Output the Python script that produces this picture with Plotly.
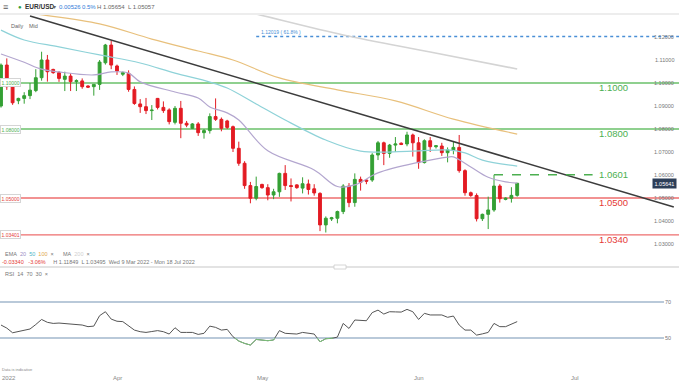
import plotly.graph_objects as go
import pandas as pd

# ---------------- data ----------------
candle_dates = [d.strftime("%Y-%m-%d") for d in pd.date_range("2022-03-09", "2022-06-21", freq="D")
                if d.weekday() != 5]
axis_end = "2022-07-18"

opens = [1.0900, 1.1078, 1.0984, 1.0923, 1.0933, 1.0945, 1.0967, 1.1023, 1.1100, 1.1059,
         1.1045, 1.1016, 1.1030, 1.1006, 1.1009, 1.0987, 1.0984, 1.0994, 1.1088, 1.1165,
         1.1074, 1.1038, 1.1042, 1.0972, 1.0909, 1.0897, 1.0880, 1.0933, 1.0894, 1.0883,
         1.0829, 1.0890, 1.0825, 1.0803, 1.0822, 1.0784, 1.0793, 1.0854, 1.0842, 1.0835,
         1.0810, 1.0716, 1.0651, 1.0554, 1.0499, 1.0559, 1.0545, 1.0513, 1.0527, 1.0607,
         1.0554, 1.0557, 1.0543, 1.0561, 1.0540, 1.0520, 1.0383, 1.0409, 1.0412, 1.0441,
         1.0552, 1.0480, 1.0581, 1.0578, 1.0578, 1.0687, 1.0740, 1.0694, 1.0730, 1.0738,
         1.0735, 1.0774, 1.0740, 1.0654, 1.0749, 1.0723, 1.0726, 1.0697, 1.0709, 1.0720,
         1.0619, 1.0523, 1.0511, 1.0410, 1.0429, 1.0448, 1.0552, 1.0494, 1.0499, 1.05115]
highs = [1.1085, 1.1107, 1.1005, 1.0936, 1.0960, 1.1000, 1.1060, 1.1136, 1.1122, 1.1062,
         1.1052, 1.1049, 1.1042, 1.1016, 1.1020, 1.0990, 1.0994, 1.1100, 1.1170, 1.1185,
         1.1080, 1.1050, 1.1055, 1.0985, 1.0930, 1.0935, 1.0904, 1.0935, 1.0920, 1.0890,
         1.0900, 1.0922, 1.0835, 1.0826, 1.0830, 1.0800, 1.0868, 1.0933, 1.0850, 1.0840,
         1.0815, 1.0745, 1.0660, 1.0570, 1.0593, 1.0562, 1.0560, 1.0540, 1.0610, 1.0643,
         1.0585, 1.0560, 1.0590, 1.0580, 1.0560, 1.0525, 1.0420, 1.0418, 1.0445, 1.0560,
         1.0565, 1.0607, 1.0593, 1.0582, 1.0695, 1.0748, 1.0745, 1.0735, 1.0765, 1.0742,
         1.0788, 1.0780, 1.0765, 1.0755, 1.0765, 1.0730, 1.0740, 1.0720, 1.0748, 1.0774,
         1.0625, 1.0528, 1.0520, 1.0432, 1.0506, 1.0601, 1.0560, 1.0503, 1.0547, 1.05654]
lows = [1.0893, 1.0970, 1.0905, 1.0908, 1.0910, 1.0930, 1.0960, 1.1010, 1.1006, 1.1040,
        1.1005, 1.0965, 1.0965, 1.0965, 1.0975, 1.0978, 1.0945, 1.0970, 1.1080, 1.1060,
        1.1035, 1.1030, 1.0962, 1.0905, 1.0870, 1.0865, 1.0839, 1.0885, 1.0870, 1.0820,
        1.0820, 1.0760, 1.0808, 1.0800, 1.0770, 1.0758, 1.0780, 1.0835, 1.0790, 1.0800,
        1.0700, 1.0640, 1.0540, 1.0477, 1.0490, 1.0540, 1.0490, 1.0495, 1.0505, 1.0535,
        1.0485, 1.0540, 1.0520, 1.0515, 1.0510, 1.0356, 1.0350, 1.0400, 1.0390, 1.0430,
        1.0460, 1.0462, 1.0532, 1.0560, 1.0570, 1.0665, 1.0643, 1.0675, 1.0700, 1.0730,
        1.0725, 1.0680, 1.0627, 1.0650, 1.0700, 1.0715, 1.0683, 1.0655, 1.0690, 1.0610,
        1.0510, 1.0505, 1.0398, 1.0400, 1.0365, 1.0440, 1.0480, 1.0490, 1.0480, 1.05057]
closes = [1.1078, 1.0984, 1.0914, 1.0933, 1.0945, 1.0969, 1.1023, 1.1100, 1.1049, 1.1045,
          1.1020, 1.1030, 1.1006, 1.1010, 1.0984, 1.0982, 1.0994, 1.1091, 1.1165, 1.1078,
          1.1052, 1.1045, 1.0972, 1.0911, 1.0897, 1.0880, 1.0882, 1.0894, 1.0880, 1.0832,
          1.0890, 1.0825, 1.0817, 1.0822, 1.0784, 1.0793, 1.0854, 1.0842, 1.0803, 1.0807,
          1.0716, 1.0651, 1.0554, 1.0499, 1.0550, 1.0545, 1.0513, 1.0527, 1.0607, 1.0554,
          1.0550, 1.0545, 1.0562, 1.0537, 1.0522, 1.0383, 1.0412, 1.0414, 1.0441, 1.0552,
          1.0480, 1.0581, 1.0568, 1.0573, 1.0687, 1.0740, 1.0694, 1.0730, 1.0735, 1.0733,
          1.0774, 1.0740, 1.0654, 1.0749, 1.0723, 1.0727, 1.0697, 1.0709, 1.0720, 1.0619,
          1.0523, 1.0511, 1.0410, 1.0429, 1.0448, 1.0552, 1.0497, 1.0499, 1.05115, 1.05641]

rsi_values = [57.2, 55.5, 52.9, 53.5, 54.1, 55.0, 57.5, 60.3, 58.7, 58.1,
              58.3, 58.1, 57.6, 57.4, 57.2, 56.3, 56.6, 62.4, 64.6, 60.5,
              59.3, 59.1, 56.5, 54.4, 53.5, 53.1, 53.6, 54.1, 53.5, 52.2,
              55.7, 53.1, 53.1, 53.1, 52.0, 52.6, 56.6, 55.9, 54.4, 54.8,
              50.7, 48.3, 47.0, 46.1, 49.2, 48.8, 48.5, 48.9, 54.1, 52.6,
              52.4, 52.2, 53.1, 52.6, 52.2, 47.9, 49.6, 49.8, 50.5, 58.1,
              55.3, 60.0, 59.8, 59.6, 64.1, 65.5, 63.3, 64.6, 64.5, 64.4,
              65.9, 64.6, 60.3, 63.7, 62.8, 62.8, 62.8, 61.5, 62.2, 57.2,
              54.4, 54.4, 51.6, 52.3, 53.1, 58.1, 56.3, 56.3, 57.5, 59.1]

ema20_dates = ["2022-03-09", "2022-03-14", "2022-03-17", "2022-03-21", "2022-03-28", "2022-03-31",
               "2022-04-04", "2022-04-06", "2022-04-13", "2022-04-18", "2022-04-20", "2022-04-24",
               "2022-04-26", "2022-05-02", "2022-05-11", "2022-05-16", "2022-05-19", "2022-05-24",
               "2022-06-01", "2022-06-07", "2022-06-08", "2022-06-12", "2022-06-15", "2022-06-19",
               "2022-06-21"]
ema20_vals = [1.1126, 1.1090, 1.1060, 1.1048, 1.1035, 1.1048,
              1.1043, 1.1005, 1.0961, 1.0935, 1.0896, 1.0870,
              1.0839, 1.0705, 1.0622, 1.0550, 1.0557, 1.0609,
              1.0655, 1.0678, 1.0679, 1.0635, 1.0590, 1.0570,
              1.0565]
ema50_dates = ["2022-03-09", "2022-03-14", "2022-03-21", "2022-03-29", "2022-04-06", "2022-04-13",
               "2022-04-20", "2022-04-24", "2022-04-29", "2022-05-05", "2022-05-13", "2022-05-20",
               "2022-05-31", "2022-06-07", "2022-06-10", "2022-06-14", "2022-06-21"]
ema50_vals = [1.1230, 1.1187, 1.1157, 1.1122, 1.1087, 1.1043,
              1.1004, 1.0978, 1.0909, 1.0839, 1.0752, 1.0704,
              1.0704, 1.0709, 1.0696, 1.0665, 1.0639]
ema100_dates = ["2022-03-09", "2022-03-16", "2022-03-29", "2022-04-08", "2022-04-18", "2022-04-25",
                "2022-05-04", "2022-05-16", "2022-05-27", "2022-06-08", "2022-06-21"]
ema100_vals = [1.1322, 1.1300, 1.1257, 1.1191, 1.1139, 1.1100,
               1.1022, 1.0970, 1.0922, 1.0843, 1.0778]
ma200_dates = ["2022-04-22", "2022-04-29", "2022-05-17", "2022-06-03", "2022-06-21"]
ma200_vals = [1.1335, 1.1300, 1.1209, 1.1135, 1.1061]

trend_dates = ["2022-03-15", "2022-07-18"]
trend_prices = [1.1291, 1.0461]

levels = [1.1000, 1.0800, 1.0500, 1.03401]
level_texts = ["1.1000", "1.0800", "1.0500", "1.0340"]
level_tags = ["1.10000", "1.08000", "1.05000", "1.03401"]
level_kinds = ["support", "support", "resist", "resist"]

fib_level = 1.12019
fib_text = "1.12019 ( 61.8% )"
fib_start = "2022-04-29"
swing_level = 1.0601
swing_text = "1.0601"
swing_start = "2022-06-16"

price_ticks = [1.12, 1.11, 1.10, 1.09, 1.08, 1.07, 1.06, 1.05, 1.04, 1.03]
last_price = 1.05641
rsi_levels = [70, 50]

# ---------------- axis (trading days, then calendar days ahead) ----------------
future = [d.strftime("%Y-%m-%d") for d in pd.date_range("2022-06-22", axis_end, freq="D")]
all_dates = candle_dates + future
pos = {d: i for i, d in enumerate(all_dates)}
X = [pos[d] for d in candle_dates]

W, H = 679, 381
SLOT = 5.8
x_lo, x_hi = -1 / SLOT, (W - 1) / SLOT


def PX(p):
    return p / W


def PY(p):
    return 1 - p / H


FONT = "Liberation Sans, Arial, sans-serif"
GREEN = "#34a034"
RED = "#e31b23"
LVL_GREEN = "#4caf50"
LVL_RED = "#e53935"

main_top, main_bot = 14, 266
rsi_top, rsi_bot = 280, 365
y_hi = 1.12 + (37 - main_top) / 2300
y_lo = 1.12 - (main_bot - 37) / 2300
r_hi = 50 + (338 - rsi_top) / 1.8
r_lo = 50 - (rsi_bot - 338) / 1.8

fig = go.Figure()

# horizontal levels
for lv, kind in zip(levels, level_kinds):
    col = "#8fd08f" if kind == "support" else "#ee6e6e"
    fig.add_shape(type="line", xref="paper", x0=0, x1=1, yref="y", y0=lv, y1=lv,
                  line=dict(color=col, width=1.8 if kind == "support" else 1.3), layer="below")

# fib dotted
fig.add_shape(type="line", xref="x", x0=pos[fib_start], x1=x_hi + 1, yref="y", y0=fib_level, y1=fib_level,
              line=dict(color="#4a8fd6", width=1.5, dash="dot"), layer="below")
# swing high dashed
fig.add_shape(type="line", xref="x", x0=pos[swing_start], x1=pos[swing_start] + 17, yref="y",
              y0=swing_level, y1=swing_level, line=dict(color="#4caf50", width=1.3, dash="dash"))

# moving averages
fig.add_trace(go.Scatter(x=[pos[d] for d in ma200_dates], y=ma200_vals, mode="lines",
                         line=dict(color="#d4d4d4", width=1.6, shape="spline"), hoverinfo="skip"))
fig.add_trace(go.Scatter(x=[pos[d] for d in ema100_dates], y=ema100_vals, mode="lines",
                         line=dict(color="#e8c07c", width=1.2, shape="spline"), hoverinfo="skip"))
fig.add_trace(go.Scatter(x=[pos[d] for d in ema50_dates], y=ema50_vals, mode="lines",
                         line=dict(color="#8ed2d8", width=1.2, shape="spline"), hoverinfo="skip"))
fig.add_trace(go.Scatter(x=[pos[d] for d in ema20_dates], y=ema20_vals, mode="lines",
                         line=dict(color="#b3a6cf", width=1.2, shape="spline"), hoverinfo="skip"))

# candles
fig.add_trace(go.Candlestick(x=X, open=opens, high=highs, low=lows, close=closes,
                             increasing=dict(line=dict(color=GREEN, width=1), fillcolor=GREEN),
                             decreasing=dict(line=dict(color=RED, width=1), fillcolor=RED),
                             whiskerwidth=0, hoverinfo="skip"))

# trend line
fig.add_trace(go.Scatter(x=[pos[d] for d in trend_dates], y=trend_prices, mode="lines",
                         line=dict(color="#3c3c3c", width=1.5), hoverinfo="skip"))

# RSI
fig.add_trace(go.Scatter(x=X, y=rsi_values, mode="lines", line=dict(color="#555555", width=1),
                         xaxis="x2", yaxis="y2", hoverinfo="skip"))
gx, gy = [], []
for i in range(len(X) - 1):
    a, b = rsi_values[i], rsi_values[i + 1]
    if a < 50 or b < 50:
        if a >= 50:
            t = (a - 50) / (a - b)
            gx += [X[i] + t, X[i + 1]]
            gy += [50, b]
        elif b >= 50:
            t = (50 - a) / (b - a)
            gx += [X[i], X[i] + t, None]
            gy += [a, 50, None]
        else:
            gx += [X[i], X[i + 1]]
            gy += [a, b]
fig.add_trace(go.Scatter(x=gx, y=gy, mode="lines", line=dict(color="#7cc47a", width=1),
                         xaxis="x2", yaxis="y2", hoverinfo="skip", connectgaps=False))
for r in rsi_levels:
    fig.add_shape(type="line", xref="paper", x0=0, x1=PX(664), yref="y2", y0=r, y1=r,
                  line=dict(color="#b9c9d9", width=2), layer="below")

ann = []


def text(x, y, s, size=6, color="#777", xa="left", ya="middle", **kw):
    ann.append(dict(x=PX(x), y=PY(y), xref="paper", yref="paper", text=s, showarrow=False,
                    xanchor=xa, yanchor=ya, font=dict(size=size, color=color, family=FONT), **kw))


# top bar
fig.add_shape(type="rect", xref="paper", yref="paper", x0=0, x1=1, y0=PY(15), y1=PY(13),
              fillcolor="#ededed", line=dict(width=0))
text(1, 6.5, "≡", size=9, color="#555")
text(16, 6.5, "●", size=6, color="#2e9e3e")
text(23, 6.5, "<b>EUR/USD</b>", size=6.5, color="#333")
text(51, 6.5, "▾", size=6, color="#666")
text(57, 6.5, "0.00526", size=6, color="#2f7bd8")
text(80, 6.5, "0.5%", size=6, color="#2f7bd8")
text(95, 6.5, "H 1.05654  L 1.05057", size=6, color="#666")
text(9, 26, "Daily", size=5.5, color="#666")
text(27, 26, "Mid", size=5.5, color="#666")

# right price scale labels
for p in price_ticks:
    ann.append(dict(x=PX(676), y=p, xref="paper", yref="y", text=f"{p:.5f}", showarrow=False,
                    xanchor="right", yanchor="middle", font=dict(size=5.5, color="#777", family=FONT)))
ann.append(dict(x=PX(677), y=last_price, xref="paper", yref="y", text=f"{last_price:.5f}", showarrow=False,
                xanchor="right", yanchor="middle", bgcolor="#2c3e58", borderpad=1.5,
                font=dict(size=5.5, color="white", family=FONT)))

# level labels + left tags
for lv, t, tag, kind in zip(levels, level_texts, level_tags, level_kinds):
    col = LVL_GREEN if kind == "support" else LVL_RED
    ann.append(dict(x=PX(613), y=lv, xref="paper", yref="y", text=t, showarrow=False,
                    xanchor="center", yanchor="middle", yshift=-4.5,
                    font=dict(size=9.5, color=col, family=FONT)))
    ann.append(dict(x=0, y=lv, xref="paper", yref="y", text=tag, showarrow=False,
                    xanchor="left", yanchor="middle", bgcolor="white", bordercolor="#d5d5d5",
                    borderwidth=1, borderpad=0.5, font=dict(size=5, color=col, family=FONT)))
ann.append(dict(x=PX(613), y=swing_level, xref="paper", yref="y", text=swing_text, showarrow=False,
                xanchor="center", yanchor="middle", font=dict(size=9.5, color=LVL_GREEN, family=FONT)))
ann.append(dict(x=pos[fib_start] + 0.4, y=fib_level, xref="x", yref="y", text=fib_text, showarrow=False,
                xanchor="left", yanchor="bottom", yshift=0,
                font=dict(size=5, color="#4a8fd6", family=FONT)))

# legend rows
text(3, 253.5, "EMA&nbsp; <span style='color:#9b8cc4'>20</span>&nbsp; <span style='color:#4db6c8'>50</span>"
     "&nbsp; <span style='color:#e0a84a'>100</span>&nbsp; ×&nbsp;&nbsp;&nbsp;&nbsp;&nbsp; MA&nbsp; "
     "<span style='color:#cfcfcf'>200</span>&nbsp; ×", size=5.5, color="#777")
text(0, 262, "<span style='color:#e53935'>-0.03340&nbsp;&nbsp; -3.06%</span>&nbsp;&nbsp;&nbsp;&nbsp; "
     "H 1.11849&nbsp; L 1.03495&nbsp; Wed 9 Mar 2022 - Mon 18 Jul 2022", size=5.5, color="#777")
fig.add_shape(type="line", xref="paper", yref="paper", x0=0, x1=1, y0=PY(267), y1=PY(267),
              line=dict(color="#e3e3e3", width=2))
fig.add_shape(type="rect", xref="paper", yref="paper", x0=PX(334), x1=PX(346), y0=PY(269), y1=PY(265),
              fillcolor="white", line=dict(color="#cccccc", width=0.8))
text(3, 273.5, "RSI&nbsp; 14&nbsp; 70&nbsp; 30&nbsp; ×", size=5.5, color="#777")
for r in rsi_levels:
    ann.append(dict(x=PX(668), y=r, xref="paper", yref="y2", text=str(r), showarrow=False,
                    xanchor="center", yanchor="middle", font=dict(size=5.5, color="#777", family=FONT)))

# bottom axis labels
text(0, 369.5, "Data is indicative", size=4, color="#888")
month_labels = []
prev = None
for i, d in enumerate(all_dates):
    m = d[:7]
    if prev is not None and m != prev:
        month_labels.append((i, pd.Timestamp(d).strftime("%b")))
    prev = m
ann.append(dict(x=0, y=PY(377.5), xref="paper", yref="paper", text="2022", showarrow=False,
                xanchor="left", yanchor="middle", font=dict(size=6, color="#888", family=FONT)))
for i, lab in month_labels:
    ann.append(dict(x=i, y=PY(377.5), xref="x2", yref="paper", text=lab, showarrow=False,
                    xanchor="center", yanchor="middle", font=dict(size=6, color="#888", family=FONT)))

fig.update_layout(
    width=W, height=H, margin=dict(l=0, r=0, t=0, b=0),
    paper_bgcolor="white", plot_bgcolor="white", showlegend=False,
    annotations=ann,
    xaxis=dict(domain=[0, 1], range=[x_lo, x_hi], visible=False, rangeslider=dict(visible=False),
               anchor="y"),
    yaxis=dict(domain=[PY(main_bot), PY(main_top)], range=[y_lo, y_hi], visible=False, anchor="x"),
    xaxis2=dict(domain=[0, 1], range=[x_lo, x_hi], visible=False, anchor="y2"),
    yaxis2=dict(domain=[PY(rsi_bot), PY(rsi_top)], range=[r_lo, r_hi], visible=False, anchor="x2"),
)
fig.write_html("out.html", config={"displayModeBar": False, "staticPlot": True},
               post_script="document.body.style.margin='0';document.body.style.overflow='hidden';")
